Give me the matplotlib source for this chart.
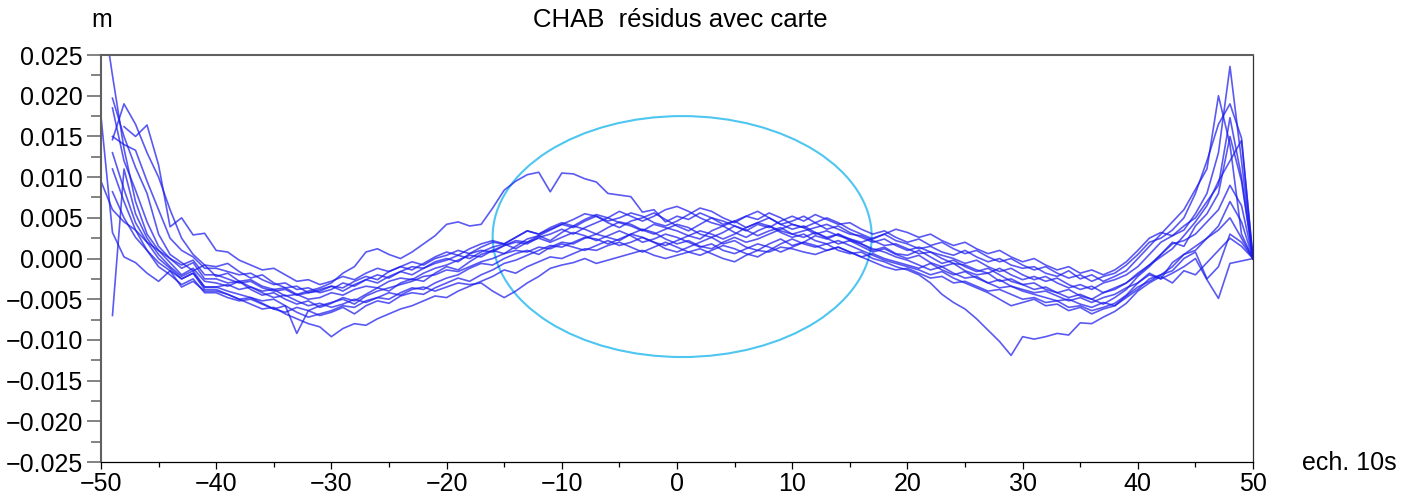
import numpy as np
import matplotlib
matplotlib.use("Agg")
import matplotlib.pyplot as plt
from matplotlib.patches import Ellipse
from matplotlib.ticker import MultipleLocator, FuncFormatter

plt.rcParams['font.family'] = ['Liberation Sans', 'DejaVu Sans']

# sample index (ech. 10s)
ech = np.arange(-50, 51)

# residuals in units of 0.1 mm, None = no sample
s1 = [320, 225, 135, 70, 30, 10, -5, -20, -12, -28,
      -30, -34, -28, -38, -45, -42, -50, -56, -52, -60,
      -55, -48, -52, -44, -36, -40, -30, -25, -28, -18,
      -10, -14, -4, 5, 10, 6, 15, 24, 28, 22,
      32, 40, 36, 30, 38, 45, 42, 35, 30, 36,
      42, 38, 30, 26, 32, 40, 35, 28, 34, 38,
      30, 26, 32, 25, 18, 22, 15, 8, 12, 5,
      0, 4, -5, -10, -6, -15, -20, -18, -28, -25,
      -32, -38, -35, -42, -48, -44, -50, -42, -36, -30,
      -18, -8, 5, 20, 15, 40, 55, 80, 150, 95, 0]
s2 = [175, 32, 2, -5, -18, -28, -15, -35, -28, -40,
      -40, -44, -50, -48, -55, -62, -58, -66, -72, -68,
      -64, -58, -60, -52, -48, -50, -42, -36, -38, -30,
      -24, -20, -12, -6, -8, 0, 6, 10, 5, 14,
      20, 18, 25, 30, 26, 22, 30, 36, 32, 24,
      18, 22, 15, 12, 20, 26, 20, 24, 30, 36,
      42, 38, 30, 34, 28, 24, 18, 12, 8, 2,
      -2, -8, -14, -10, -18, -24, -22, -30, -36, -34,
      -40, -44, -48, -52, -50, -56, -60, -54, -58, -46,
      -35, -28, -20, -15, 0, 8, -25, -10, 30, 20, 0]
s3 = [95, 60, 45, 35, 20, 10, 0, -8, -2, -20,
      -20, -25, -30, -28, -36, -40, -38, -45, -42, -38,
      -34, -40, -32, -26, -30, -22, -16, -20, -12, -6,
      -2, 4, 0, 8, 14, 18, 12, 20, 25, 20,
      26, 32, 28, 22, 28, 34, 28, 20, 24, 30,
      26, 20, 14, 18, 10, 6, 12, 18, 14, 8,
      14, 20, 16, 10, 14, 8, 2, 6, 0, -4,
      -8, -12, -6, -14, -20, -16, -24, -30, -26, -34,
      -38, -42, -40, -46, -52, -48, -54, -48, -44, -36,
      -30, -18, -25, -5, 5, 15, 25, 35, 50, 25, 0]
s4 = [None, 197, 150, 112, 80, 30, 5, -5, -15, -8,
      -22, -18, -28, -26, -34, -38, -36, -44, -40, -36,
      -30, -18, -10, 8, 12, 5, 0, 8, 18, 28,
      42, 45, 40, 42, 62, 84, 95, 103, 106, 82,
      105, 104, 98, 94, 80, 78, 76, 57, 60, 45,
      52, 48, 56, 50, 42, 46, 38, 44, 50, 42,
      36, 40, 32, 26, 30, 24, 20, 25, 30, 22,
      18, 12, 15, 8, 4, 10, 2, -4, 0, -8,
      -12, -10, -18, -22, -15, -25, -20, -28, -22, -15,
      0, 15, 30, 45, 60, 85, 110, 200, 140, 30, 0]
s5 = [None, 185, 120, 84, 45, 15, 0, -12, -5, -25,
      -25, -30, -28, -35, -40, -38, -46, -44, -50, -48,
      -42, -45, -38, -34, -36, -28, -24, -26, -18, -12,
      -8, -2, 4, 2, 10, 16, 22, 20, 28, 35,
      42, 48, 55, 52, 46, 50, 56, 52, 44, 40,
      46, 54, 62, 58, 50, 44, 52, 58, 50, 42,
      46, 52, 44, 36, 40, 32, 26, 20, 24, 16,
      10, 14, 8, 4, 0, -6, -2, -10, -16, -12,
      -20, -26, -22, -30, -36, -32, -38, -30, -26, -20,
      -10, 5, 20, 28, 35, 55, 80, 130, 236, 120, 0]
s6 = [None, 146, 190, 165, 130, 100, 60, 25, 5, -8,
      -10, -6, -16, -24, -20, -30, -36, -34, -42, -40,
      -34, -36, -28, -22, -26, -16, -10, -14, -6, 2,
      8, 4, 12, 18, 22, 18, 26, 34, 30, 36,
      42, 38, 46, 52, 44, 38, 46, 50, 56, 48,
      40, 34, 42, 50, 46, 40, 34, 42, 38, 46,
      52, 46, 54, 48, 42, 44, 36, 30, 34, 26,
      20, 24, 16, 20, 12, 6, 10, 2, -4, 0,
      -8, -14, -10, -18, -24, -20, -28, -22, -18, -8,
      5, 20, 25, 35, 50, 80, 120, 165, 190, 148, 0]
s7 = [None, -70, 110, 55, 25, 5, -10, -22, -15, -35,
      -35, -40, -44, -48, -52, -50, -58, -92, -64, -70,
      -66, -60, -68, -58, -52, -55, -46, -42, -44, -36,
      -30, -24, -28, -20, -14, -6, -2, 4, 10, 16,
      14, 20, 26, 24, 18, 24, 30, 26, 20, 16,
      22, 28, 24, 34, 40, 32, 26, 34, 40, 32,
      26, 30, 22, 18, 22, 16, 10, 4, -2, -6,
      -10, -14, -20, -16, -24, -30, -36, -42, -50, -58,
      -54, -50, -58, -56, -64, -60, -68, -62, -58, -48,
      -38, -25, -20, -10, 5, 10, 25, 40, 70, 45, 0]
s8 = [None, 82, 50, 26, 10, -5, -15, -25, -18, -35,
      -35, -32, -38, -35, -42, -48, -45, -52, -58, -55,
      -60, -56, -50, -54, -48, -42, -45, -38, -35, -40,
      -35, -30, -32, -30, -40, -48, -40, -30, -22, -12,
      -8, -5, 0, -6, -2, 2, 6, 10, 4, 0,
      4, 8, 12, 6, 0, -4, 4, 10, 8, 14,
      12, 8, 5, 10, 14, 8, 2, -4, -10, -14,
      -12, -18, -24, -22, -30, -28, -34, -40, -38, -44,
      -50, -48, -54, -52, -60, -58, -64, -60, -55, -45,
      -30, -20, -25, -18, -10, 0, -26, -49, -6, -3, 0]
s9 = [None, None, 162, 150, 164, 115, 39, 50, 29, 31,
      10, 8, -2, -8, -14, -12, -20, -28, -26, -32,
      -28, -22, -26, -18, -12, -16, -10, -4, -8, 0,
      4, 10, 6, 14, 20, 18, 26, 34, 30, 38,
      44, 40, 48, 54, 50, 58, 52, 46, 52, 60,
      64, 58, 50, 44, 40, 46, 52, 48, 56, 50,
      42, 38, 44, 50, 44, 36, 30, 24, 30, 36,
      32, 26, 30, 22, 16, 20, 12, 6, 10, 2,
      -4, 0, -8, -14, -10, -18, -14, -20, -14, -4,
      10, 25, 32, 28, 40, 50, 70, 90, 173, 100, 0]
s10 = [None, 130, 85, 44, 20, 0, -12, -25, -18, -38,
       -38, -44, -50, -56, -62, -60, -68, -74, -80, -84,
       -96, -86, -80, -82, -74, -68, -62, -58, -52, -46,
       -48, -40, -34, -28, -22, -14, -18, -10, -4, 2,
       0, 6, 12, 10, 16, 20, 14, 8, 14, 20,
       14, 8, 4, 10, 16, 12, 6, 2, 10, 18,
       24, 18, 14, 18, 10, 6, 8, 0, -4, -10,
       -14, -20, -30, -44, -54, -62, -74, -88, -102, -119,
       -96, -99, -96, -92, -94, -79, -80, -72, -65, -55,
       -40, -30, -22, -30, -15, -20, -5, 10, 25, 15, 0]
s11 = [None, 110, 70, 35, 10, -10, -20, -32, -25, -42,
       -42, -48, -52, -50, -56, -62, -66, -60, -64, -58,
       -54, -50, -56, -46, -40, -36, -32, -28, -22, -20,
       -14, -16, -10, -4, 0, 6, 10, 8, 14, 12,
       18, 14, 10, 16, 22, 16, 20, 26, 20, 12,
       8, 14, 20, 26, 18, 22, 14, 10, 18, 24,
       16, 20, 28, 24, 30, 22, 18, 10, 14, 6,
       4, 10, 2, -6, -2, -10, -16, -12, -20, -28,
       -32, -30, -38, -42, -38, -46, -50, -56, -48, -38,
       -22, -10, 5, 18, 22, 30, 45, 60, 90, 65, 0]
s12 = [None, 150, 140, 133, 95, 60, 25, 10, 2, -12,
       -12, -16, -20, -18, -26, -32, -30, -38, -36, -42,
       -38, -30, -34, -26, -20, -24, -16, -10, -12, -4,
       0, -4, 6, 10, 8, 16, 20, 18, 26, 30,
       36, 30, 38, 44, 50, 44, 40, 34, 42, 38,
       34, 28, 34, 30, 24, 30, 38, 44, 40, 34,
       30, 34, 38, 42, 36, 30, 28, 22, 16, 18,
       12, 6, 8, 0, -6, -8, -14, -18, -12, -20,
       -26, -22, -28, -24, -32, -38, -34, -42, -38, -30,
       -20, -8, 2, 12, 28, 45, 65, 95, 120, 145, 0]

series = [s1, s2, s3, s4, s5, s6, s7, s8, s9, s10, s11, s12]

fig = plt.figure(figsize=(14.06, 4.99), dpi=100)
ax = fig.add_axes([0.0718, 0.0741, 0.8194, 0.8156])

for s in series:
    y = np.array(s, dtype=float) * 1e-4
    ax.plot(ech, y, color='#1a1aee', alpha=0.72, lw=1.2)

# zone marked on the plot
ax.add_patch(Ellipse((0.45, 0.0027), 32.9, 0.0296, fill=False,
                     edgecolor='#4ec6f0', lw=1.5))

ax.set_xlim(-50, 50)
ax.set_ylim(-0.025, 0.025)
ax.xaxis.set_major_locator(MultipleLocator(10))
ax.xaxis.set_minor_locator(MultipleLocator(5))
ax.yaxis.set_major_locator(MultipleLocator(0.005))
ax.yaxis.set_minor_locator(MultipleLocator(0.0025))

def yfmt(v, pos):
    s = '%.3f' % abs(v)
    return ('\u2212' + s) if v < -1e-9 else s
ax.yaxis.set_major_formatter(FuncFormatter(yfmt))

ax.tick_params(axis='y', which='major', length=10, width=1.1, color='#606060',
               labelsize=18, pad=3)
ax.tick_params(axis='y', which='minor', length=7, width=1.1, color='#606060')
ax.tick_params(axis='x', which='major', length=5, width=0.9, color='black',
               labelsize=18, pad=2)
ax.tick_params(axis='x', which='minor', length=3.6, width=0.9, color='black')

ax.spines['top'].set_color('#606060')
ax.spines['top'].set_linewidth(1.5)
ax.spines['left'].set_color('#606060')
ax.spines['left'].set_linewidth(1.5)
ax.spines['right'].set_color('#303030')
ax.spines['right'].set_linewidth(0.9)
ax.spines['bottom'].set_linewidth(0.9)

fig.text(0.4836, 0.96, 'CHAB  résidus avec carte', ha='center', va='center', fontsize=18.5)
fig.text(0.072, 0.96, 'm', ha='center', va='center', fontsize=18)
fig.text(0.96, 0.072, 'ech. 10s', ha='center', va='center', fontsize=18)

fig.savefig('out.png', dpi=100)
